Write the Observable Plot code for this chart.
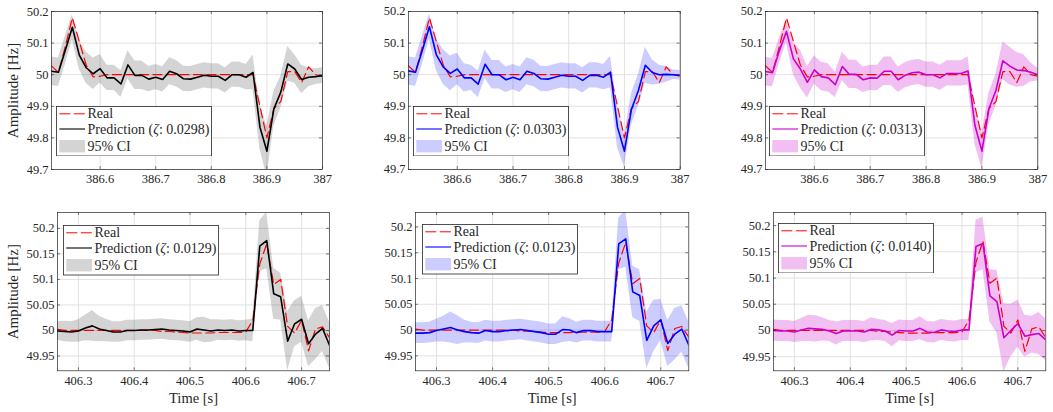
<!DOCTYPE html>
<html><head><meta charset="utf-8">
<script src="https://cdn.jsdelivr.net/npm/d3@7"></script>
<script src="https://cdn.jsdelivr.net/npm/@observablehq/plot@0.6"></script>
<style>
body{margin:0;background:#fff;}
#root{position:relative;width:1053px;height:412px;overflow:hidden;background:#fff;font-family:"Liberation Serif","DejaVu Serif",serif;color:#262626;}
#root svg{position:absolute;}
#root svg text{font-family:"Liberation Serif","DejaVu Serif",serif;}
</style></head>
<body><div id="root"></div>
<script>
// ---------- data ----------
const topTime = [386.5125,386.525,386.5375,386.55,386.5625,386.575,386.5875,386.6,386.6125,386.625,
386.6375,386.65,386.6625,386.675,386.6875,386.7,386.7125,386.725,386.7375,386.75,
386.7625,386.775,386.7875,386.8,386.8125,386.825,386.8375,386.85,386.8625,386.875,
386.8875,386.9,386.9125,386.925,386.9375,386.95,386.9625,386.975,386.9875,387];
const bottomTime = [406.2625,406.275,406.2875,406.3,406.3125,406.325,406.3375,406.35,406.3625,406.375,
406.3875,406.4,406.4125,406.425,406.4375,406.45,406.4625,406.475,406.4875,406.5,
406.5125,406.525,406.5375,406.55,406.5625,406.575,406.5875,406.6,406.6125,406.625,
406.6375,406.65,406.6625,406.675,406.6875,406.7,406.7125,406.725,406.7375,406.75];

const topReal = [50.028,50.007,50.09,50.18,50.105,50.03,49.993,49.995,50.0,50.0,
50.0,50.0,50.0,50.0,50.0,50.0,50.0,50.0,50.0,50.0,
50.0,50.0,50.0,50.0,50.0,50.0,50.0,50.0,50.0,50.0,
49.9,49.8,49.893,49.915,50.01,50.01,49.975,50.025,50.0,49.995];
const bottomReal = [50.002,50.0,50.0,50.0,50.0,50.0,50.0,50.0,50.0,50.0,
50.0,50.0,50.0,50.0,50.0,49.998,49.998,49.997,49.996,49.995,
49.995,49.995,49.995,49.996,49.996,49.996,49.996,49.997,50.02,50.13,
50.17,50.09,50.1,50.008,49.995,50.02,49.96,50.003,50.007,49.986];

const predTL = [50.011,50.008,50.078,50.15,50.062,50.022,50.003,50.019,49.99,49.99,
49.971,50.031,49.998,49.998,49.986,49.992,49.985,50.011,50.003,49.987,
49.986,49.992,49.998,49.995,49.995,49.982,50.0,50.0,49.992,50.007,
49.834,49.758,49.892,49.945,50.034,50.018,49.985,49.992,49.994,49.997];
const ciTL = [0.045,0.045,0.045,0.04,0.045,0.05,0.05,0.045,0.04,0.04,
0.042,0.045,0.045,0.045,0.04,0.04,0.04,0.043,0.042,0.04,
0.04,0.04,0.04,0.04,0.04,0.04,0.04,0.04,0.04,0.055,
0.07,0.08,0.055,0.05,0.055,0.045,0.045,0.03,0.025,0.025];

const predTM = [50.012,50.008,50.078,50.152,50.063,50.024,50.004,50.018,49.99,49.99,
49.97,50.033,50.0,50.0,49.984,49.992,49.984,50.011,50.004,49.987,
49.986,49.992,49.998,49.995,49.995,49.982,49.998,49.998,49.992,50.008,
49.834,49.758,49.89,49.95,50.03,50.007,50.0,50.001,50.0,49.998];
const ciTM = [0.045,0.045,0.045,0.04,0.05,0.055,0.055,0.05,0.045,0.04,
0.042,0.045,0.045,0.045,0.04,0.04,0.04,0.043,0.042,0.04,
0.04,0.04,0.04,0.04,0.04,0.04,0.04,0.04,0.04,0.05,
0.065,0.05,0.05,0.05,0.057,0.04,0.03,0.025,0.015,0.015];

const predTR = [50.01,50.006,50.077,50.137,50.05,50.018,49.976,50.015,49.994,49.99,
49.968,50.026,50.001,50.001,49.984,49.99,49.989,50.011,50.011,49.984,
49.998,50.006,50.008,50.0,50.0,49.99,50.004,50.004,50.004,50.012,
49.839,49.758,49.892,49.95,50.044,50.027,50.015,50.013,50.008,50.0];
const ciTR = [0.045,0.045,0.04,0.035,0.05,0.06,0.05,0.045,0.045,0.045,
0.04,0.045,0.045,0.045,0.04,0.04,0.04,0.045,0.045,0.04,
0.04,0.04,0.04,0.04,0.04,0.04,0.04,0.04,0.04,0.045,
0.06,0.055,0.05,0.05,0.06,0.06,0.055,0.05,0.03,0.02];

const predBL = [49.999,49.998,49.997,49.999,50.005,50.009,50.003,50.0,49.997,49.997,
50.0,50.0,50.001,50.001,50.002,50.003,50.001,50.0,49.999,49.997,
50.003,50.001,49.999,50.001,50.0,50.001,49.999,50.0,50.0,50.165,
50.176,50.072,50.066,49.979,50.013,50.022,49.974,49.993,50.004,49.971];
const ciBL = [0.018,0.02,0.02,0.022,0.025,0.03,0.025,0.022,0.02,0.02,
0.02,0.02,0.02,0.02,0.02,0.02,0.02,0.02,0.02,0.02,
0.022,0.025,0.022,0.02,0.02,0.02,0.02,0.02,0.022,0.05,
0.055,0.05,0.046,0.058,0.045,0.045,0.045,0.05,0.045,0.045];

const predBM = [49.994,49.994,49.995,49.999,50.002,50.005,50.0,49.997,49.995,49.994,
49.999,49.997,49.997,49.999,50.0,50.001,49.999,49.997,49.995,49.992,
49.992,50.001,50.0,49.995,49.999,49.999,49.997,49.997,49.997,50.167,
50.177,50.074,50.067,49.98,50.008,50.02,49.974,49.992,50.002,49.971];
const ciBM = [0.02,0.02,0.02,0.022,0.025,0.03,0.028,0.022,0.02,0.02,
0.02,0.02,0.02,0.02,0.02,0.02,0.02,0.02,0.02,0.02,
0.02,0.025,0.022,0.02,0.02,0.02,0.02,0.02,0.02,0.05,
0.055,0.05,0.05,0.055,0.05,0.04,0.045,0.05,0.045,0.045];

const predBR = [50.0,49.999,49.999,49.997,50.001,50.004,50.003,50.002,49.999,49.994,
49.999,49.999,49.999,49.997,50.002,50.001,49.999,49.991,50.0,49.999,
49.999,50.004,49.997,49.996,50.001,49.999,49.998,50.001,50.001,50.16,
50.166,50.066,50.055,49.986,50.0,50.013,49.989,49.992,49.994,49.982];
const ciBR = [0.02,0.02,0.02,0.02,0.022,0.025,0.025,0.022,0.02,0.022,
0.02,0.02,0.02,0.02,0.022,0.02,0.02,0.022,0.02,0.02,
0.02,0.022,0.02,0.02,0.02,0.02,0.02,0.02,0.02,0.05,
0.05,0.05,0.06,0.065,0.05,0.045,0.04,0.035,0.04,0.04];

const topXTicks = [386.6,386.7,386.8,386.9,387];
const topXTickLabels = ["386.6","386.7","386.8","386.9","387"];
const topYTicks = [49.7,49.8,49.9,50,50.1,50.2];
const topYTickLabels = ["49.7","49.8","49.9","50","50.1","50.2"];
const bottomXTicks = [406.3,406.4,406.5,406.6,406.7];
const bottomXTickLabels = ["406.3","406.4","406.5","406.6","406.7"];
const bottomYTicks = [49.95,50,50.05,50.1,50.15,50.2];
const bottomYTickLabels = ["49.95","50","50.05","50.1","50.15","50.2"];

const zetas = ["0.0298","0.0303","0.0313","0.0129","0.0123","0.0140"];
const seriesNames = ["Real","Prediction","95% CI"];
const yLabel = "Amplitude [Hz]";
const xLabel = "Time [s]";

// ---------- layout / style ----------
const FONT = "'Liberation Serif', 'DejaVu Serif', serif";
const INK = "#262626";
const topDomainX = [386.5125, 387], bottomDomainX = [406.2625, 406.75];
const panels = [
  {time: topTime, real: topReal, pred: predTL, ci: ciTL, zeta: zetas[0], frame: {l: 51, r: 322, t: 11, b: 169}, yDomain: [49.7, 50.2], legend: {x: 55.5, y: 105.7}, color: "#000000", fill: "#000000", fillOpacity: 0.17, yl: true, xl: false},
  {time: topTime, real: topReal, pred: predTM, ci: ciTM, zeta: zetas[1], frame: {l: 408.3, r: 680, t: 11, b: 169}, yDomain: [49.7, 50.2], legend: {x: 412.7, y: 105.7}, color: "#0000ff", fill: "#0000ff", fillOpacity: 0.2, yl: false, xl: false},
  {time: topTime, real: topReal, pred: predTR, ci: ciTR, zeta: zetas[2], frame: {l: 765, r: 1037.3, t: 11, b: 169}, yDomain: [49.7, 50.2], legend: {x: 769.3, y: 105.7}, color: "#cc00cc", fill: "#cc00cc", fillOpacity: 0.25, yl: false, xl: false},
  {time: bottomTime, real: bottomReal, pred: predBL, ci: ciBL, zeta: zetas[3], frame: {l: 57.3, r: 329.3, t: 211.7, b: 370}, yDomain: [49.921, 50.231], legend: {x: 62.7, y: 225}, color: "#000000", fill: "#000000", fillOpacity: 0.17, yl: true, xl: true},
  {time: bottomTime, real: bottomReal, pred: predBM, ci: ciBM, zeta: zetas[4], frame: {l: 415, r: 688.3, t: 211.7, b: 370}, yDomain: [49.921, 50.228], legend: {x: 421.7, y: 224.3}, color: "#0000ff", fill: "#0000ff", fillOpacity: 0.2, yl: false, xl: true},
  {time: bottomTime, real: bottomReal, pred: predBR, ci: ciBR, zeta: zetas[5], frame: {l: 772.7, r: 1045, t: 211.7, b: 370}, yDomain: [49.923, 50.225], legend: {x: 778.3, y: 222.7}, color: "#cc00cc", fill: "#cc00cc", fillOpacity: 0.25, yl: false, xl: true}
];

const root = document.getElementById("root");
const mL = 52, mR = 8, mT = 11, mB = 42;

panels.forEach((p, idx) => {
  const isTop = idx < 3;
  const xt = isTop ? topXTicks : bottomXTicks;
  const xtl = isTop ? topXTickLabels : bottomXTickLabels;
  const yt = isTop ? topYTicks : bottomYTicks;
  const ytl = isTop ? topYTickLabels : bottomYTickLabels;
  const fw = p.frame.r - p.frame.l, fh = p.frame.b - p.frame.t;
  const rows = p.time.map((t, i) => ({t, real: p.real[i], pred: p.pred[i], lo: p.pred[i] - p.ci[i], hi: p.pred[i] + p.ci[i]}));
  const chart = Plot.plot({
    width: fw + mL + mR,
    height: fh + mT + mB,
    marginLeft: mL, marginRight: mR, marginTop: mT, marginBottom: mB,
    x: {domain: isTop ? topDomainX : bottomDomainX, label: null},
    y: {domain: p.yDomain, label: null},
    style: {fontFamily: FONT, fontSize: "12.5px", color: INK, background: "transparent", overflow: "visible"},
    marks: [
      Plot.gridX(xt, {stroke: "#dedede", strokeOpacity: 1, strokeWidth: 0.9}),
      Plot.gridY(yt, {stroke: "#dedede", strokeOpacity: 1, strokeWidth: 0.9}),
      Plot.areaY(rows, {x: "t", y1: "lo", y2: "hi", fill: p.fill, fillOpacity: p.fillOpacity, clip: true}),
      Plot.line(rows, {x: "t", y: "real", stroke: "#ff0000", strokeWidth: 1.2, strokeDasharray: "9,4.5", clip: true}),
      Plot.line(rows, {x: "t", y: "pred", stroke: p.color, strokeWidth: 1.6, clip: true}),
      Plot.ruleX(xt, {stroke: INK, strokeWidth: 0.6, insetTop: fh - 3}),
      Plot.ruleX(xt, {stroke: INK, strokeWidth: 0.6, insetBottom: fh - 3}),
      Plot.ruleY(yt, {stroke: INK, strokeWidth: 0.6, insetRight: fw - 3}),
      Plot.ruleY(yt, {stroke: INK, strokeWidth: 0.6, insetLeft: fw - 3}),
      Plot.frame({stroke: INK, strokeWidth: 0.7}),
      Plot.axisX(xt, {tickSize: 0, tickPadding: 5, label: null, fontSize: 12.5, fill: INK, tickFormat: d => xtl[xt.indexOf(d)]}),
      Plot.axisY(yt, {tickSize: 0, tickPadding: 3, label: null, fontSize: 12.5, fill: INK, tickFormat: d => ytl[yt.indexOf(d)]}),
      ...(p.yl ? [Plot.text([yLabel], {frameAnchor: "left", textAnchor: "middle", lineAnchor: "middle", dx: isTop ? -38.5 : -44, rotate: -90, fontSize: 15, fill: INK})] : []),
      ...(p.xl ? [Plot.text([xLabel], {frameAnchor: "bottom", textAnchor: "middle", lineAnchor: "middle", dy: 28, fontSize: 14.5, fill: INK})] : [])
    ]
  });
  chart.style.left = (p.frame.l - mL) + "px";
  chart.style.top = (p.frame.t - mT) + "px";
  root.appendChild(chart);

  // legend
  const W = 156, H = 50.5;
  const rowsY = [7.8, 23, 40.5];
  const lg = d3.create("svg").attr("width", W).attr("height", H)
    .style("left", p.legend.x + "px").style("top", p.legend.y + "px")
    .style("font-family", FONT).style("font-size", "14px");
  lg.append("rect").attr("x", 0.5).attr("y", 0.5).attr("width", W - 1).attr("height", H - 1)
    .attr("fill", "#fff").attr("stroke", INK).attr("stroke-width", 0.8);
  lg.append("line").attr("x1", 3.3).attr("x2", 29).attr("y1", rowsY[0]).attr("y2", rowsY[0])
    .attr("stroke", "#ff0000").attr("stroke-width", 1.0).attr("stroke-dasharray", "11,3.5");
  lg.append("line").attr("x1", 3.3).attr("x2", 29).attr("y1", rowsY[1]).attr("y2", rowsY[1])
    .attr("stroke", p.color).attr("stroke-width", 1.1);
  lg.append("rect").attr("x", 3.3).attr("y", 34).attr("width", 25.7).attr("height", 12.4)
    .attr("fill", p.fill).attr("fill-opacity", p.fillOpacity);
  const tx = 31.5;
  lg.append("text").attr("x", tx).attr("y", rowsY[0]).attr("dominant-baseline", "central").attr("fill", INK).text(seriesNames[0]);
  const t2 = lg.append("text").attr("x", tx).attr("y", rowsY[1]).attr("dominant-baseline", "central").attr("fill", INK);
  t2.append("tspan").text(seriesNames[1] + " (");
  t2.append("tspan").attr("font-style", "italic").text("ζ");
  t2.append("tspan").text(": " + p.zeta + ")");
  lg.append("text").attr("x", tx).attr("y", rowsY[2]).attr("dominant-baseline", "central").attr("fill", INK).text(seriesNames[2]);
  root.appendChild(lg.node());
});
</script>
</body></html>
